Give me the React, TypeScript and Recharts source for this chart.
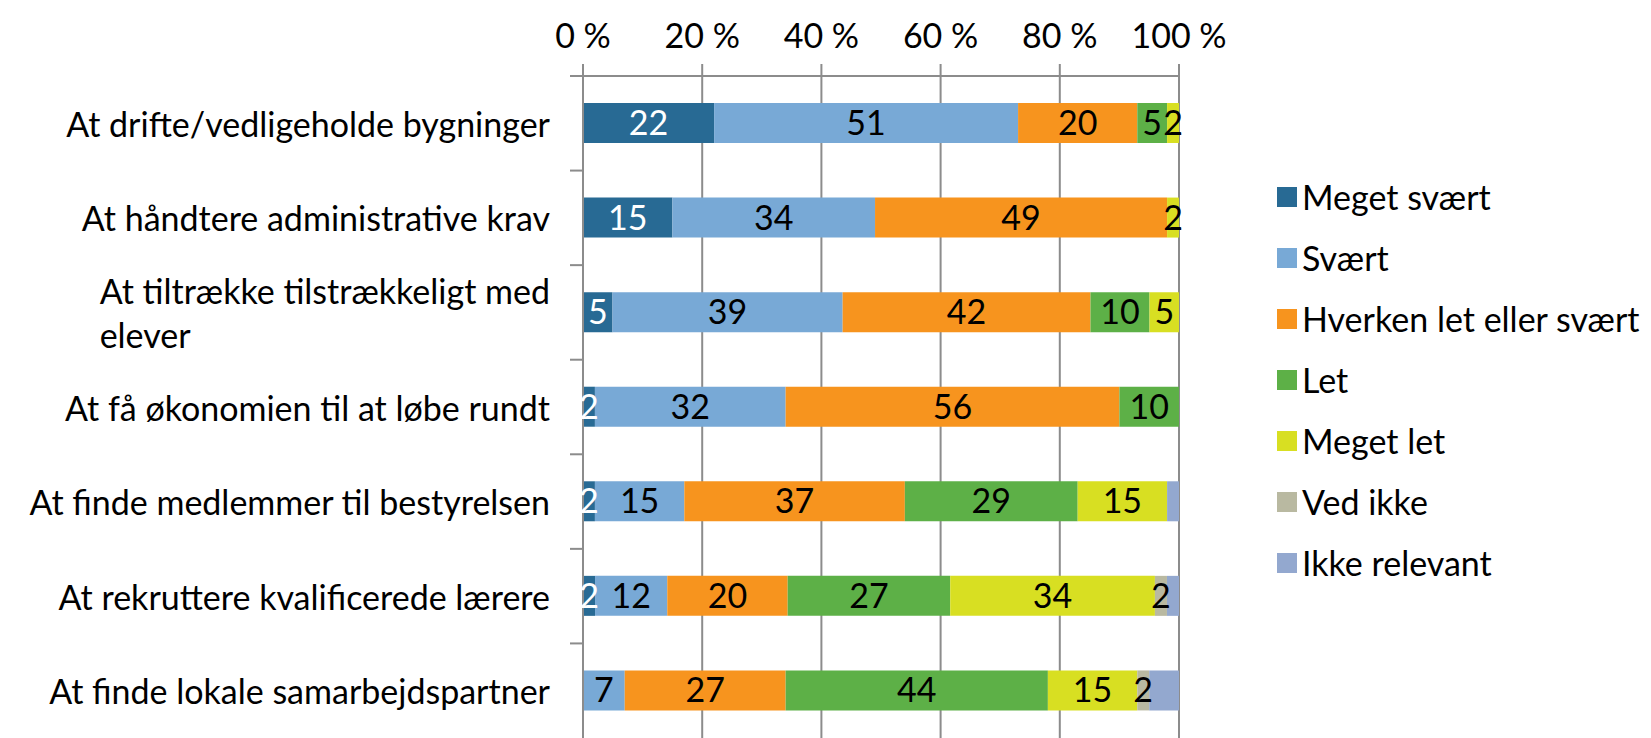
import React from 'react'
import { BarChart, Bar, XAxis, YAxis, CartesianGrid, LabelList, Legend } from 'recharts'

// categories (top to bottom) and series values in percent
const categories = [
    'At drifte/vedligeholde bygninger',
    'At håndtere administrative krav',
    'At tiltrække tilstrækkeligt med elever',
    'At få økonomien til at løbe rundt',
    'At finde medlemmer til bestyrelsen',
    'At rekruttere kvalificerede lærere',
    'At finde lokale samarbejdspartner',
]
const megetSvaert = [22, 15, 5, 2, 2, 2, 0]
const svaert = [51, 34, 39, 32, 15, 12, 7]
const hverken = [20, 49, 42, 56, 37, 20, 27]
const letVals = [5, null, 10, 10, 29, 27, 44]
const megetLet = [2, 2, 5, null, 15, 34, 15]
const vedIkke = [null, null, null, null, null, 2, 2]
const ikkeRelevant = [null, null, null, null, 2, 2, 5]
const xTicks = [0, 0.2, 0.4, 0.6, 0.8, 1]

const SERIES = [
    { key: 'ms', name: 'Meget svært', values: megetSvaert, color: '#286A94', labelColor: '#FFFFFF', labels: true },
    { key: 'sv', name: 'Svært', values: svaert, color: '#78A9D6', labelColor: '#000000', labels: true },
    { key: 'hv', name: 'Hverken let eller svært', values: hverken, color: '#F7941E', labelColor: '#000000', labels: true },
    { key: 'le', name: 'Let', values: letVals, color: '#5DB047', labelColor: '#000000', labels: true },
    { key: 'ml', name: 'Meget let', values: megetLet, color: '#D8DF22', labelColor: '#000000', labels: true },
    { key: 'vi', name: 'Ved ikke', values: vedIkke, color: '#B9B9A1', labelColor: '#000000', labels: true },
    { key: 'ir', name: 'Ikke relevant', values: ikkeRelevant, color: '#93A8CF', labelColor: '#000000', labels: false },
]

const data = categories.map((name, i) => {
    const row: Record<string, string | number | null> = { name }
    SERIES.forEach((s) => { row[s.key] = s.values[i] })
    return row
})

const FONT = 'Lato, "Open Sans", sans-serif'
const FONT_SIZE = 34
const W = 1651
const H = 738
const AXIS_TOP = 76
const PLOT_LEFT = 583
const PLOT_RIGHT = 1179
const BAND = (H - AXIS_TOP) / categories.length
const GRID = '#8C8C8C'

let measureCtx: CanvasRenderingContext2D | null = null
function textWidth(t: string) {
    if (!measureCtx) measureCtx = document.createElement('canvas').getContext('2d')
    if (!measureCtx) return t.length * FONT_SIZE * 0.5
    measureCtx.font = `${FONT_SIZE}px ${FONT}`
    return measureCtx.measureText(t).width
}

function wrap(label: string, max: number) {
    const words = label.split(' ')
    const lines: string[] = []
    let cur = ''
    words.forEach((w) => {
        const next = cur ? cur + ' ' + w : w
        if (cur && textWidth(next) > max) {
            lines.push(cur)
            cur = w
        } else cur = next
    })
    if (cur) lines.push(cur)
    return lines
}

// eslint-disable-next-line @typescript-eslint/no-explicit-any
function CategoryTick({ y, payload }: any) {
    const right = PLOT_LEFT - 33
    const lines = wrap(String(payload.value), 540)
    const blockW = Math.max(...lines.map(textWidth))
    const lh = 44
    const top = y - ((lines.length - 1) * lh) / 2
    const boundary = y - BAND / 2
    return (
        <g>
            <line x1={PLOT_LEFT - 13} x2={PLOT_LEFT} y1={boundary} y2={boundary} stroke={GRID} strokeWidth={2} />
            {lines.map((ln, i) => (
                <text
                    key={i}
                    x={lines.length > 1 ? right - blockW : right}
                    y={top + i * lh}
                    textAnchor={lines.length > 1 ? 'start' : 'end'}
                    dominantBaseline="central"
                    fontFamily={FONT}
                    fontSize={FONT_SIZE}
                    fill="#000"
                >
                    {ln}
                </text>
            ))}
        </g>
    )
}

function LegendBox() {
    return (
        <div style={{ fontFamily: FONT, fontSize: FONT_SIZE, color: '#000' }}>
            {SERIES.map((s) => (
                <div key={s.key} style={{ display: 'flex', alignItems: 'center', height: 61 }}>
                    <div style={{ width: 20, height: 20, background: s.color, marginRight: 5 }} />
                    <span style={{ whiteSpace: 'nowrap' }}>{s.name}</span>
                </div>
            ))}
        </div>
    )
}

export default function App() {
    return (
        <div style={{ position: 'absolute', left: 0, top: 0, width: W, height: H, background: '#fff', overflow: 'hidden' }}>
            <BarChart
                width={W}
                height={H}
                data={data}
                layout="vertical"
                stackOffset="expand"
                barSize={40}
                margin={{ top: 0, right: W - PLOT_RIGHT, bottom: 0, left: 0 }}
            >
                <CartesianGrid horizontal={false} stroke={GRID} strokeWidth={2} />
                <XAxis
                    type="number"
                    orientation="top"
                    domain={[0, 1]}
                    ticks={xTicks}
                    height={AXIS_TOP}
                    tickSize={12}
                    tickMargin={16}
                    tickFormatter={(v: number) => `${Math.round(v * 100)} %`}
                    axisLine={{ stroke: GRID, strokeWidth: 2 }}
                    tickLine={{ stroke: GRID, strokeWidth: 2 }}
                    tick={{ fontFamily: FONT, fontSize: FONT_SIZE, fill: '#000' }}
                />
                <YAxis
                    type="category"
                    dataKey="name"
                    width={PLOT_LEFT}
                    axisLine={{ stroke: GRID, strokeWidth: 2 }}
                    tickLine={false}
                    tick={<CategoryTick />}
                    interval={0}
                />
                <Legend
                    layout="vertical"
                    align="center"
                    verticalAlign="middle"
                    content={() => <LegendBox />}
                    wrapperStyle={{ left: 1277, top: 166, width: 374 }}
                />
                {SERIES.map((s) => (
                    <Bar key={s.key} dataKey={s.key} name={s.name} stackId="a" fill={s.color} isAnimationActive={false}>
                        {s.labels && (
                            <LabelList
                                dataKey={s.key}
                                position="center"
                                fill={s.labelColor}
                                fontFamily={FONT}
                                fontSize={FONT_SIZE}
                                formatter={(v: unknown) => (v === null || v === undefined ? '' : String(v))}
                            />
                        )}
                    </Bar>
                ))}
            </BarChart>
        </div>
    )
}
